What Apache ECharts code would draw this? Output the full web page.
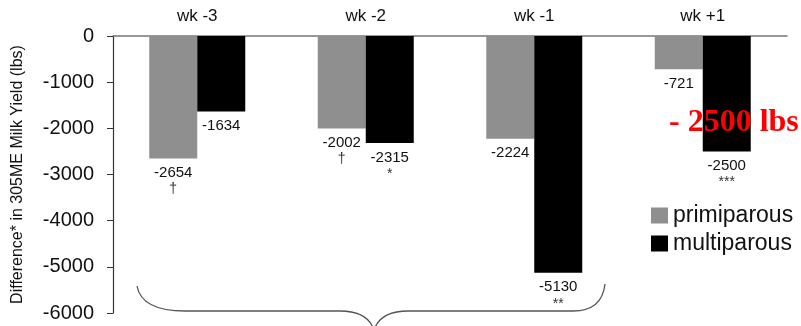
<!DOCTYPE html>
<html>
<head>
<meta charset="utf-8">
<script src="https://cdn.jsdelivr.net/npm/echarts@6/dist/echarts.min.js"></script>
<style>
  html, body { margin: 0; padding: 0; background: #fff; }
  #chart { width: 801px; height: 326px; }
</style>
</head>
<body>
<div id="chart"></div>
<script>
// Weeks relative to the event
const weeks = ['wk -3', 'wk -2', 'wk -1', 'wk +1'];
// Difference in 305ME milk yield (lbs)
const primiparous = [-2654, -2002, -2224, -721];
const multiparous = [-1634, -2315, -5130, -2500];
// Significance marks under each value
const primiMarks = ['\u2020', '\u2020', '', ''];
const multiMarks = ['', '*', '**', '***'];
// Y axis range and step
const yMin = -6000, yMax = 0, yStep = 1000;

const chart = echarts.init(document.getElementById('chart'), null, { renderer: 'canvas' });

const FONT = 'Liberation Sans, Arial, sans-serif';

function labelFor(marks) {
  return {
    show: true,
    position: 'bottom',
    distance: 6,
    formatter: p => {
      const m = marks[p.dataIndex];
      return '{v|' + p.value + '}' + (m ? '\n{s|' + m + '}' : '');
    },
    rich: {
      v: { fontFamily: FONT, fontSize: 15, color: '#111', lineHeight: 17 },
      s: { fontFamily: FONT, fontSize: 14, color: '#333', lineHeight: 16 }
    }
  };
}

// Curly brace under the first three weeks
const braceStyle = { fill: 'none', stroke: '#555', lineWidth: 1.3 };
const brace = [
  { type: 'bezierCurve', shape: { x1: 137, y1: 286, cpx1: 140, cpy1: 302, cpx2: 155, cpy2: 311, x2: 185, y2: 311 } },
  { type: 'line', shape: { x1: 185, y1: 311, x2: 340, y2: 311 } },
  { type: 'bezierCurve', shape: { x1: 340, y1: 311, cpx1: 360, cpy1: 311, cpx2: 370, cpy2: 318, x2: 374, y2: 330 } },
  { type: 'bezierCurve', shape: { x1: 374, y1: 330, cpx1: 378, cpy1: 318, cpx2: 388, cpy2: 311, x2: 408, y2: 311 } },
  { type: 'line', shape: { x1: 408, y1: 311, x2: 573, y2: 311 } },
  { type: 'bezierCurve', shape: { x1: 573, y1: 311, cpx1: 593, cpy1: 311, cpx2: 603, cpy2: 302, x2: 605, y2: 284 } }
].map(g => Object.assign(g, { style: braceStyle, z: 10, silent: true }));

chart.setOption({
  animation: false,
  grid: { left: 113, right: 14, top: 36, bottom: 13, containLabel: false },
  legend: {
    orient: 'vertical',
    left: 646, top: 199,
    itemWidth: 17, itemHeight: 16, itemGap: 5,
    icon: 'rect',
    textStyle: { fontFamily: FONT, fontSize: 23, color: '#111' },
    data: ['primiparous', 'multiparous']
  },
  xAxis: {
    type: 'category',
    position: 'top',
    data: weeks,
    axisLine: { show: true, lineStyle: { color: '#777', width: 1.5 } },
    axisTick: { show: false },
    axisLabel: { fontFamily: FONT, fontSize: 17, color: '#111', margin: 11 }
  },
  yAxis: {
    type: 'value',
    min: yMin, max: yMax, interval: yStep,
    name: 'Difference* in 305ME Milk Yield (lbs)',
    nameLocation: 'middle',
    nameGap: 87,
    nameTextStyle: { fontFamily: FONT, fontSize: 16, color: '#111' },
    axisLine: { show: true, lineStyle: { color: '#333', width: 1.2 } },
    axisTick: { show: true, length: 6, lineStyle: { color: '#333' } },
    splitLine: { show: false },
    axisLabel: { fontFamily: FONT, fontSize: 20, color: '#111', margin: 19, formatter: v => String(v) }
  },
  series: [
    {
      name: 'primiparous', type: 'bar', data: primiparous,
      barWidth: 48, barGap: '0%',
      itemStyle: { color: '#8f8f8f' },
      label: labelFor(primiMarks)
    },
    {
      name: 'multiparous', type: 'bar', data: multiparous,
      barWidth: 48, barGap: '0%',
      itemStyle: { color: '#000' },
      label: labelFor(multiMarks)
    }
  ],
  graphic: brace.concat([
    {
      type: 'text',
      left: 669, top: 107,
      style: {
        text: '- 2500 lbs',
        fill: '#ff0000',
        font: 'bold 32px "Liberation Serif", "Times New Roman", serif'
      },
      z: 20
    }
  ])
});
</script>
</body>
</html>
